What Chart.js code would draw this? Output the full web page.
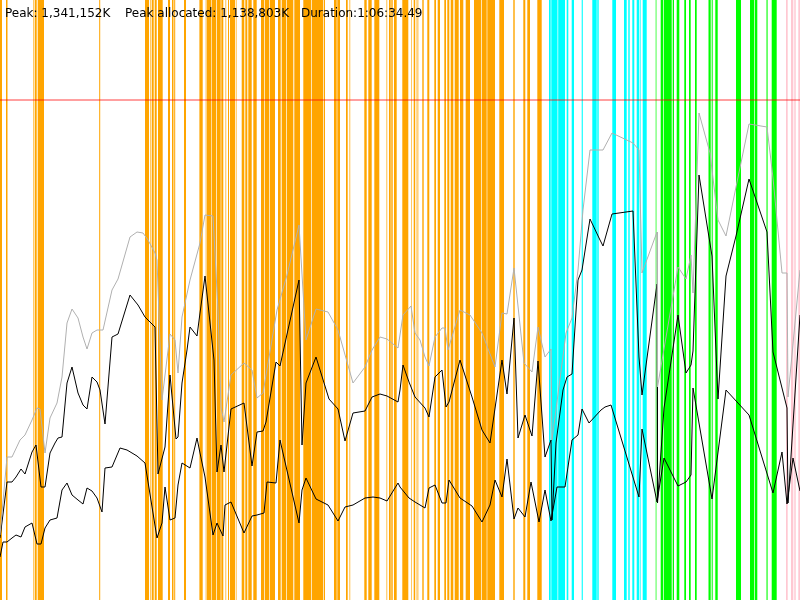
<!DOCTYPE html>
<html>
<head>
<meta charset="utf-8">
<script src="https://cdn.jsdelivr.net/npm/chart.js@4/dist/chart.umd.min.js"></script>
<style>
  html, body { margin: 0; padding: 0; background: #fff; }
  #wrap { position: relative; width: 800px; height: 600px; overflow: hidden; }
  canvas { position: absolute; left: 0; top: 0; }
  .lbl { position: absolute; top: 6px; font: 12px "DejaVu Sans", sans-serif; line-height: 14px; color: #000; white-space: pre; }
</style>
</head>
<body>
<div id="wrap">
  <canvas id="c" width="800" height="600"></canvas>
  <span class="lbl" style="left:5px">Peak: 1,341,152K</span>
  <span class="lbl" style="left:125px">Peak allocated: 1,138,803K</span>
  <span class="lbl" style="left:301px">Duration:1:06:34.49</span>
</div>
<script>
// Time axis spans 0..800 (relative session time); memory in relative units, peak line at 500.
const timeRange = [0, 800];
const memoryRange = [0, 600];
const peakLevel = 500;

// Grey: committed heap
const timeCommitted = [0,7,12,20,25,32,37,40,45,50,57,62,67,72,78,83,87,92,97,103,112,118,130,137,143,148,155,157,162,170,175,178,182,190,200,205,213,218,221,224,231,244,252,257,263,277,287,299,306,316,328,338,353,365,372,380,387,398,403,411,415,420,425,429,435,442,445,448,460,470,482,495,502,507,514,524,532,538,545,551,552,566,572,578,583,590,600,603,612,633,639,642,657,657.5,678,686,691,693,699,710,718,726,736,749,767,773,782,787,788,800];
const committed = [65,143,143,160,165,180,192,191,147,182,197,223,277,291,282,263,251,267,270,270,310,321,363,368,367,360,347,340,200,266,260,227,283,320,357,385,384,290,193,178,225,237,230,202,207,290,325,375,260,291,288,270,217,233,250,263,261,252,285,294,267,260,243,234,263,272,272,250,290,285,267,233,287,286,332,237,228,273,243,251,160,267,282,330,390,450,450,450,467,457,450,327,368,213,333,321,345,307,487,447,380,364,413,476,473,422,327,327,203,330];

// Black upper: used heap
const timeUsed = [0,7,12,16,21,25,32,36,41,45,50,55,58,62,67,72,78,83,87,92,97,100,105,112,118,130,138,145,155,158,165,170,176,178,182,187,190,197,200,205,214,217,221,224,231,244,252,257,263,266,276,280,299,302,306,316,329,338,345,353,365,372,380,387,398,400,403,409,415,425,429,435,442,446,449,460,472,482,490,502,507,514,518,525,532,538,545,551,552,556,563,567,572,578,582,590,600,603,612,633,639,642,657,657.5,664,678,686,691,693,699,712,718,726,736,749,767,773,787,788,800];
const used = [62,118,118,123,131,126,148,155,113,113,147,157,162,163,217,233,207,195,191,223,218,210,176,263,266,305,295,283,273,126,153,225,161,163,217,250,273,264,287,324,240,128,155,128,191,197,134,168,169,178,238,234,320,155,217,243,201,191,159,187,189,203,206,204,198,210,235,218,203,192,183,223,230,193,198,240,203,170,157,240,206,282,162,185,164,239,143,160,80,157,210,223,226,320,330,381,360,354,386,389,243,205,316,97,192,285,227,235,249,425,344,201,324,364,421,368,248,192,97,285];

// Black lower: young generation
const timeYoung = [0,3,7,12,16,21,25,32,37,41,45,50,57,62,67,72,78,83,87,92,97,102,105,112,120,127,137,145,157,162,165,170,175,178,182,190,197,200,205,213,217,223,225,231,244,252,257,264,267,276,280,299,302,306,316,328,338,345,353,365,373,380,387,398,400,409,415,425,429,435,442,446,449,460,472,482,490,495,502,507,514,518,525,531,539,545,551,557,565,572,578,582,589,601,605,611,639,642,657,664,678,686,691,693,712,726,749,773,782,787,793,800];
const young = [43,58,58,62,65,63,73,77,56,56,72,80,82,110,117,105,100,96,112,109,102,88,132,133,152,150,144,137,62,77,113,80,82,115,137,132,162,147,123,65,77,64,95,98,67,84,85,87,118,117,160,77,110,122,101,95,79,93,95,102,103,102,99,117,113,102,98,92,112,115,97,97,120,102,94,78,95,120,103,141,81,92,83,118,78,110,79,113,113,160,165,191,177,190,193,195,103,171,98,142,114,118,125,212,101,210,185,107,148,96,142,109];

// GC / phase events: [start, end] on the time axis
const orangeEvents = [[0,2],[6,7.5],[33.2,33.8],[34.7,36.7],[37.7,44],[99.2,100.2],
  [145,149],[150,150.6],[151.7,153.7],[154.7,156.7],[158,162.7],[168,170],[172,173.5],[174.2,175.2],[184,186],
  [199,199.6],[200,202.7],[205.7,206.5],[207,211],[211.6,216],[216.7,220.7],[221.3,223.3],[225.5,226.2],[228,229],[230,235],[235.8,236.5],
  [241.7,244.3],[245.3,247.3],[248.3,251.7],[253.3,256.7],[261,264.3],[265,269],[269.7,275],[278,280.7],[281.7,286],[286.7,293.3],[294.3,300],[303.3,311],[311.7,323.3],[324,325],
  [334,336.7],[337.3,340],[346,347.7],[349.5,350.2],[364.3,366.7],[368.3,371.7],[374.3,379.3],[386.5,387.2],[389,390.7],[391.3,392.7],[394,396.7],[402.3,408.3],[411,411.6],[413.7,415],[415.8,416.4],[417.5,418.3],[422.3,423.7],[427.3,429.3],[434.3,436],[437.7,440],[444.3,446],[447.3,449.3],[450.7,453.3],[454.7,458.7],[460,463.3],[465.7,470],[474,481],[481.7,486.7],[487.3,495],[499.3,504],[513.3,514.7],[523.3,525.3],[527.3,530],[537.3,541.7]];
const cyanEvents = [[549,550.7],[551.3,557.5],[558.2,565],[566.7,568.3],[571.7,574],[581.7,582.8],[592.3,596.7],[597.3,598.7],[612.3,616],[624,626.7],[628.3,629.7],[632.3,634.3],[636.7,639.3],[640,640.6],[642.7,646.7]];
const greenEvents = [[655.7,656.4],[660.7,663.3],[664,671.7],[672.7,674],[676.7,679.3],[684.3,686],[689,690.7],[695,696.7],[708.5,710.7],[711.7,712.7],[715.3,717.7],[736,741],[750,754.3],[755,757.3],[766.5,767.6],[771.7,776.7]];
const pinkEvents = [[786,787.7],[791,793.3],[794.3,795.7],[798.3,800]];

const eventGroups = [
  { events: orangeEvents, color: '#FFA500' },
  { events: cyanEvents, color: '#00FFFF' },
  { events: greenEvents, color: '#00FF00' },
  { events: pinkEvents, color: '#FFC8D2' }
];

const toPoints = (xs, ys) => xs.map((x, i) => ({ x, y: ys[i] }));

const eventBands = {
  id: 'eventBands',
  beforeDatasetsDraw(chart) {
    const { ctx, chartArea, scales } = chart;
    const xs = scales.x;
    ctx.save();
    for (const g of eventGroups) {
      ctx.fillStyle = g.color;
      for (const [s, e] of g.events) {
        const x0 = xs.getPixelForValue(s);
        const x1 = xs.getPixelForValue(e);
        ctx.fillRect(x0, chartArea.top, x1 - x0, chartArea.bottom - chartArea.top);
      }
    }
    ctx.restore();
  }
};

new Chart(document.getElementById('c'), {
  type: 'line',
  data: {
    datasets: [
      { label: 'Committed', data: toPoints(timeCommitted, committed), borderColor: '#B0B0B0', borderWidth: 1, pointRadius: 0, tension: 0, fill: false },
      { label: 'Used', data: toPoints(timeUsed, used), borderColor: '#000000', borderWidth: 1, pointRadius: 0, tension: 0, fill: false },
      { label: 'Young', data: toPoints(timeYoung, young), borderColor: '#000000', borderWidth: 1, pointRadius: 0, tension: 0, fill: false },
      { label: 'Peak', data: toPoints(timeRange, [peakLevel, peakLevel]), borderColor: 'rgba(255,0,0,0.75)', borderWidth: 1, pointRadius: 0, fill: false }
    ]
  },
  options: {
    responsive: false,
    animation: false,
    devicePixelRatio: 1,
    layout: { padding: 0 },
    plugins: { legend: { display: false }, tooltip: { enabled: false }, title: { display: false } },
    scales: {
      x: { type: 'linear', min: timeRange[0], max: timeRange[1], display: false },
      y: { type: 'linear', min: memoryRange[0], max: memoryRange[1], display: false }
    }
  },
  plugins: [eventBands]
});
</script>
</body>
</html>
